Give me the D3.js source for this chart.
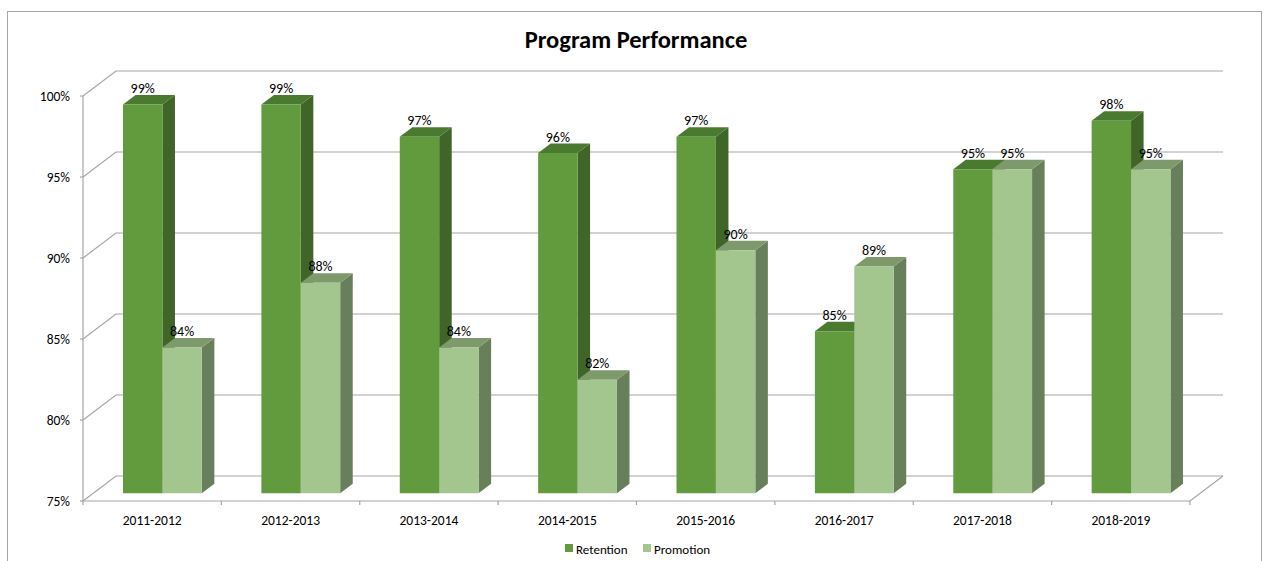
<!DOCTYPE html>
<html>
<head>
<meta charset="utf-8">
<script src="https://cdn.jsdelivr.net/npm/d3@7/dist/d3.min.js"></script>
<style>
html,body{margin:0;padding:0;background:#fff;}
svg text{font-family:Carlito,Lato,"Open Sans",sans-serif;fill:#000;}
</style>
</head>
<body>
<svg id="chart" width="1267" height="561"></svg>
<script>
const categories = ["2011-2012","2012-2013","2013-2014","2014-2015","2015-2016","2016-2017","2017-2018","2018-2019"];
const series = ["Retention","Promotion"];
const retention = [99,99,97,96,97,85,95,98];
const promotion = [84,88,84,82,90,89,95,95];
const yTicks = [75,80,85,90,95,100];
const title = "Program Performance";

const colors = {
  Retention: {front:"#629a3e", side:"#3f6528", top:"#4a7a2f"},
  Promotion: {front:"#a2c68e", side:"#677f5a", top:"#7e9a6c"}
};

const svg = d3.select("#chart");
const left = 83, right = 1190, DX = 33, DY = -25;
const z0 = 0.31, z1 = 0.69;

const x = d3.scaleBand().domain(categories).range([left, right]);
const xs = d3.scaleBand().domain(series).range([0, x.bandwidth()]).paddingInner(0).paddingOuter(0.756);
const y = d3.scaleLinear().domain([75,100]).range([501,96]);

const P = (xw, v, z) => [xw + z*DX, y(v) + z*DY];
const poly = pts => pts.map(p => p.join(",")).join(" ");

// outer border
svg.append("rect").attr("x",7.5).attr("y",11.5).attr("width",1254).attr("height",600)
  .attr("fill","none").attr("stroke","#a6a6a6").attr("stroke-width",1);

// title
svg.append("text").attr("x",636).attr("y",48).attr("text-anchor","middle")
  .style("font-size","24.5px").style("font-weight","bold").text(title);

const grid = svg.append("g").attr("stroke","#a6a6a6").attr("stroke-width",1.2).attr("fill","none");
yTicks.forEach(v => {
  const a = P(left, v, 0), b = P(left, v, 1), c = P(right, v, 1);
  grid.append("polyline").attr("points", poly([a,b,c]));
  grid.append("line").attr("x1",left-3).attr("x2",left).attr("y1",y(v)).attr("y2",y(v));
});
grid.append("line").attr("x1",left).attr("x2",left).attr("y1",y(75)).attr("y2",y(100));
grid.append("polyline").attr("points", poly([P(left,75,0), P(right,75,0), P(right,75,1)]));
const bounds = categories.map(c => x(c)).concat([right]);
bounds.forEach(bx => {
  grid.append("line").attr("x1",bx).attr("x2",bx).attr("y1",y(75)).attr("y2",y(75)+4);
});

// y-axis labels
svg.append("g").selectAll("text").data(yTicks).join("text")
  .attr("x",70).attr("y",d=>y(d)).attr("dy","0.35em").attr("text-anchor","end")
  .style("font-size","13.5px").text(d=>d+"%");

// x-axis labels
svg.append("g").selectAll("text").data(categories).join("text")
  .attr("x",d=>x(d)+x.bandwidth()/2).attr("y",520).attr("dy","0.35em").attr("text-anchor","middle")
  .style("font-size","13.5px").text(d=>d);

// bars
const barData = [];
categories.forEach((c,i) => {
  barData.push({cat:c, s:"Retention", v:retention[i]});
  barData.push({cat:c, s:"Promotion", v:promotion[i]});
});
const bars = svg.append("g");
barData.forEach(d => {
  const x0 = x(d.cat) + xs(d.s), x1 = x0 + xs.bandwidth();
  const g = bars.append("g");
  const col = colors[d.s];
  g.append("polygon").attr("points", poly([P(x1,75,z0),P(x1,75,z1),P(x1,d.v,z1),P(x1,d.v,z0)])).attr("fill",col.side);
  g.append("polygon").attr("points", poly([P(x0,d.v,z0),P(x1,d.v,z0),P(x1,d.v,z1),P(x0,d.v,z1)])).attr("fill",col.top);
  g.append("polygon").attr("points", poly([P(x0,75,z0),P(x1,75,z0),P(x1,d.v,z0),P(x0,d.v,z0)])).attr("fill",col.front);
});

// data labels
svg.append("g").selectAll("text").data(barData).join("text")
  .attr("x", d => x(d.cat)+xs(d.s)+xs.bandwidth()/2 + z0*DX)
  .attr("y", d => y(d.v) + z1*DY - 2)
  .attr("text-anchor","middle").style("font-size","14px")
  .text(d => d.v + "%");

// legend
const leg = svg.append("g");
const legItems = [{s:"Retention", x:565},{s:"Promotion", x:643}];
legItems.forEach(it => {
  leg.append("rect").attr("x",it.x).attr("y",544).attr("width",8).attr("height",8).attr("fill",colors[it.s].front);
  leg.append("text").attr("x",it.x+11).attr("y",549).attr("dy","0.35em").style("font-size","13px").text(it.s);
});
</script>
</body>
</html>
